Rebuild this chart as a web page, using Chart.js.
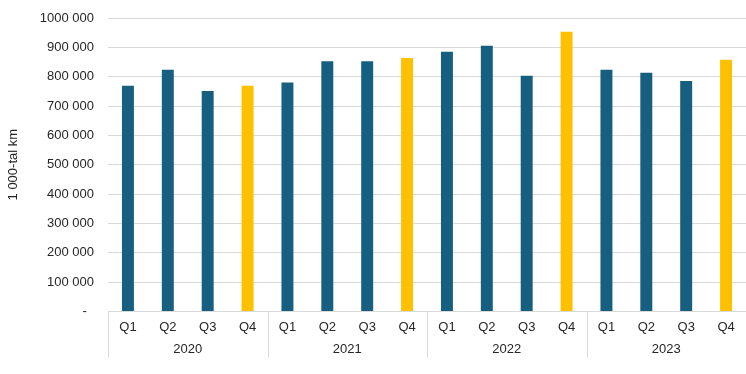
<!DOCTYPE html>
<html>
<head>
<meta charset="utf-8">
<script src="https://cdn.jsdelivr.net/npm/chart.js@4/dist/chart.umd.min.js"></script>
<style>
html,body{margin:0;padding:0;background:#fff;}
#wrap{width:746px;height:374px;}
</style>
</head>
<body>
<div id="wrap"><canvas id="c" width="746" height="374"></canvas></div>
<script>
const years = ['2020', '2021', '2022', '2023'];
const quarters = ['Q1','Q2','Q3','Q4','Q1','Q2','Q3','Q4','Q1','Q2','Q3','Q4','Q1','Q2','Q3','Q4'];
const values = [769000, 824000, 751000, 769000, 780000, 853000, 853000, 864000, 885000, 905000, 803000, 953000, 824000, 813000, 785000, 858000];
const yTicks = [0, 100000, 200000, 300000, 400000, 500000, 600000, 700000, 800000, 900000, 1000000];
const yTitle = '1 000-tal km';

const BLUE = '#165f80';
const YELLOW = '#ffc000';
const LINE = '#d9d9d9';
const TEXT = '#262626';
const FONT = "'Liberation Sans', Arial, sans-serif";

function fmt(v) {
  if (v === 0) return '-  ';
  const k = Math.floor(v / 1000);
  const r = String(v % 1000).padStart(3, '0');
  return k + ' ' + r;
}

const yearGroups = {
  id: 'yearGroups',
  afterDraw(chart) {
    const x = chart.scales.x;
    const ctx = chart.ctx;
    const ca = chart.chartArea;
    const step = x.getPixelForValue(1) - x.getPixelForValue(0);
    const per = quarters.length / years.length;
    ctx.save();
    ctx.strokeStyle = LINE;
    ctx.lineWidth = 1;
    for (let g = 0; g <= years.length; g++) {
      const idx = Math.min(g * per, quarters.length - 1);
      let px = x.getPixelForValue(idx) + (g * per >= quarters.length ? step / 2 : -step / 2);
      px = Math.round(px) + 0.5;
      ctx.beginPath();
      ctx.moveTo(px, ca.bottom);
      ctx.lineTo(px, ca.bottom + 46);
      ctx.stroke();
    }
    ctx.fillStyle = TEXT;
    ctx.font = '13px ' + FONT;
    ctx.textAlign = 'center';
    ctx.textBaseline = 'middle';
    years.forEach((yr, g) => {
      const a = x.getPixelForValue(g * per) - step / 2;
      const b = x.getPixelForValue(g * per + per - 1) + step / 2;
      ctx.fillText(yr, (a + b) / 2, ca.bottom + 38);
    });
    ctx.restore();
  }
};

new Chart(document.getElementById('c'), {
  type: 'bar',
  data: {
    labels: quarters,
    datasets: [{
      data: values,
      backgroundColor: quarters.map(q => q === 'Q4' ? YELLOW : BLUE),
      categoryPercentage: 1,
      barPercentage: 0.3,
      borderWidth: 0
    }]
  },
  options: {
    responsive: false,
    animation: false,
    devicePixelRatio: 1,
    layout: { padding: { left: 0, right: 0, top: 18, bottom: 39 } },
    plugins: { legend: { display: false }, tooltip: { enabled: false } },
    scales: {
      x: {
        grid: { display: false },
        border: { display: true, color: LINE, width: 1 },
        ticks: { color: TEXT, font: { family: FONT, size: 13 }, padding: 0, maxRotation: 0 }
      },
      y: {
        min: 0,
        max: 1000000,
        afterFit(scale) { scale.width = 108; scale.paddingTop = 0; },
        afterBuildTicks(scale) { scale.ticks = yTicks.map(v => ({ value: v })); },
        grid: { color: LINE, drawTicks: false, lineWidth: 1 },
        border: { display: false },
        ticks: { color: TEXT, font: { family: FONT, size: 13 }, padding: 14, callback: v => fmt(v) },
        title: { display: true, text: yTitle, color: TEXT, font: { family: FONT, size: 13 }, padding: { top: 6, bottom: 0 } }
      }
    }
  },
  plugins: [yearGroups]
});
</script>
</body>
</html>
